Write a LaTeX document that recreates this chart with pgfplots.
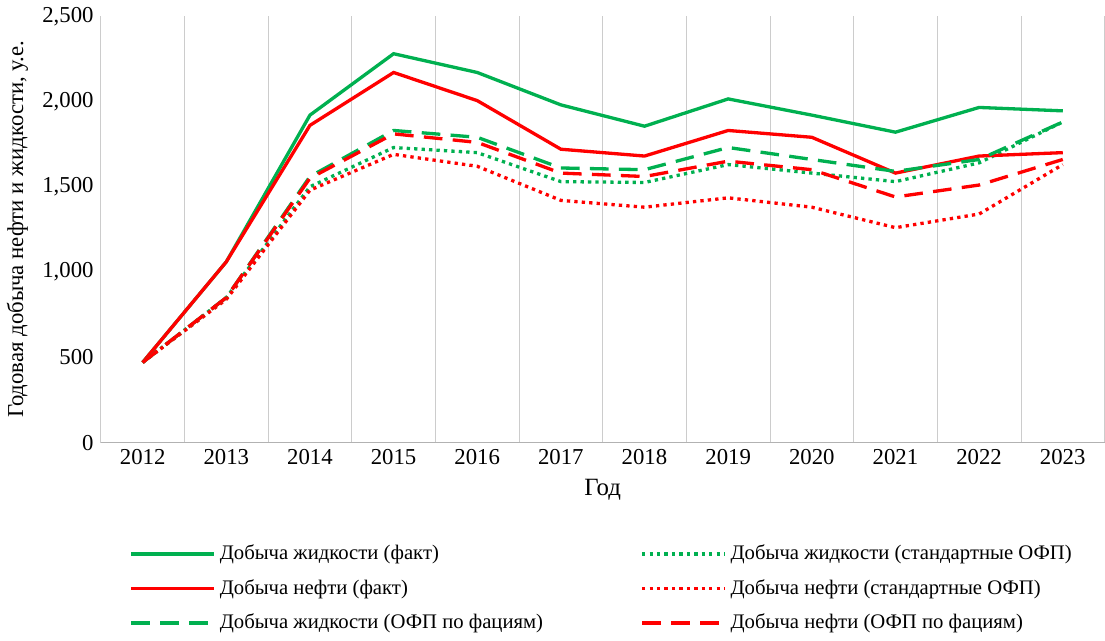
\documentclass[border=0pt]{standalone}
\usepackage{pgfplots}
\pgfplotsset{compat=1.18}
\usepackage{fontspec}
\setmainfont{Liberation Serif}
\definecolor{gr}{RGB}{0,176,80}
\definecolor{rd}{RGB}{255,0,0}
\begin{document}
\begin{tikzpicture}
\begin{axis}[scale only axis, width=485pt, height=206pt,
 xmin=2011.5, xmax=2023.5, ymin=0, ymax=2500,
 xtick={2012,...,2023}, minor xtick={2011.5,2012.5,...,2023.5},
 xticklabel style={/pgf/number format/1000 sep=},
 ytick={0,500,...,2500},
 /pgf/number format/assume math mode=true,
 xminorgrids, minor grid style={gray!40},
 axis x line*=bottom, axis y line*=left, y axis line style={draw=none},
 x axis line style={gray!60, -}, tick style={draw=none},
 every tick label/.append style={font=\fontsize{11}{13}\selectfont},
 ylabel={Годовая добыча нефти и жидкости, у.е.}, ylabel style={font=\fontsize{11}{13}\selectfont},
 xlabel={Год}, xlabel style={font=\fontsize{12}{14}\selectfont},
 legend style={at={(0.5,-0.22)}, anchor=north, draw=none, font=\fontsize{10}{12}\selectfont, legend columns=2, /tikz/every even column/.append style={column sep=45pt}, row sep=4pt},
 legend cell align=left,
 legend image code/.code={\draw[#1] (0pt,0pt) -- (40pt,0pt);},
 ]
\addplot[gr, line width=1.6pt] coordinates {(2012,470)(2013,1060)(2014,1920)(2015,2280)(2016,2170)(2017,1980)(2018,1855)(2019,2015)(2020,1920)(2021,1820)(2022,1965)(2023,1945)};
\addlegendentry{Добыча жидкости (факт)}
\addplot[gr, line width=1.6pt, dotted] coordinates {(2012,470)(2013,850)(2014,1500)(2015,1730)(2016,1700)(2017,1530)(2018,1525)(2019,1630)(2020,1580)(2021,1530)(2022,1640)(2023,1880)};
\addlegendentry{Добыча жидкости (стандартные ОФП)}
\addplot[rd, line width=1.6pt] coordinates {(2012,470)(2013,1060)(2014,1860)(2015,2170)(2016,2005)(2017,1720)(2018,1680)(2019,1830)(2020,1790)(2021,1580)(2022,1680)(2023,1700)};
\addlegendentry{Добыча нефти (факт)}
\addplot[rd, line width=1.6pt, dotted] coordinates {(2012,470)(2013,840)(2014,1480)(2015,1690)(2016,1620)(2017,1420)(2018,1380)(2019,1435)(2020,1380)(2021,1260)(2022,1340)(2023,1630)};
\addlegendentry{Добыча нефти (стандартные ОФП)}
\addplot[gr, line width=1.6pt, dash pattern=on 9pt off 5pt] coordinates {(2012,470)(2013,850)(2014,1560)(2015,1830)(2016,1790)(2017,1610)(2018,1600)(2019,1730)(2020,1660)(2021,1590)(2022,1660)(2023,1880)};
\addlegendentry{Добыча жидкости (ОФП по фациям)}
\addplot[rd, line width=1.6pt, dash pattern=on 9pt off 5pt] coordinates {(2012,470)(2013,850)(2014,1550)(2015,1810)(2016,1760)(2017,1580)(2018,1560)(2019,1650)(2020,1600)(2021,1440)(2022,1510)(2023,1660)};
\addlegendentry{Добыча нефти (ОФП по фациям)}
\end{axis}
\end{tikzpicture}
\end{document}
